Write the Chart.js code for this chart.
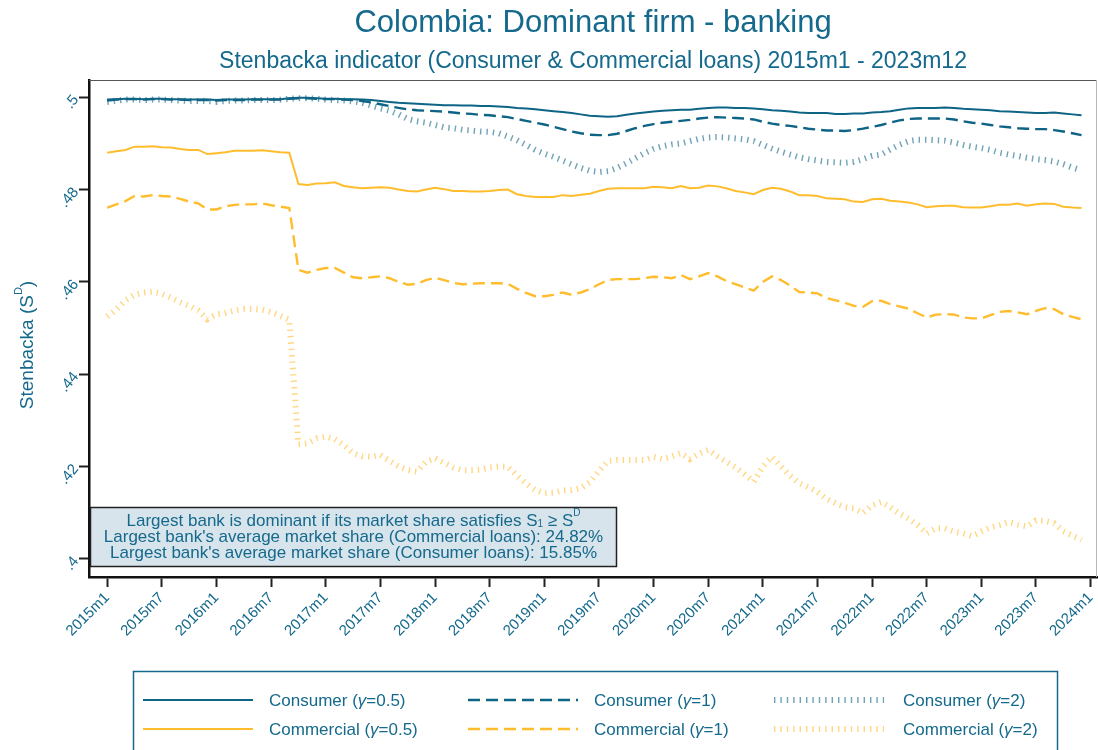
<!DOCTYPE html>
<html>
<head>
<meta charset="utf-8">
<title>Colombia: Dominant firm - banking</title>
<script src="https://cdn.jsdelivr.net/npm/chart.js@4.4.1/dist/chart.umd.min.js"></script>
<style>
    html, body { margin: 0; padding: 0; background: #ffffff; }
    #wrap { width: 1098px; height: 750px; }
</style>
</head>
<body>
<div id="wrap"><canvas id="chart" width="1098" height="750"></canvas></div>
<script>
// ==================== DATA ====================

// Monthly series, 2015m1 .. 2023m12 (108 months)
const consumer05 = [
    0.4995, 0.4996, 0.4997, 0.4997, 0.4996, 0.4997, 0.4997, 0.4996, 0.4996, 0.4995,
    0.4995, 0.4995, 0.4994, 0.4995, 0.4995, 0.4995, 0.4996, 0.4996, 0.4996, 0.4996,
    0.4998, 0.4999, 0.4999, 0.4998, 0.4997, 0.4997, 0.4996, 0.4996, 0.4995, 0.4994,
    0.4992, 0.4990, 0.4988, 0.4987, 0.4986, 0.4985, 0.4984, 0.4983, 0.4983, 0.4982,
    0.4982, 0.4981, 0.4981, 0.4980, 0.4979, 0.4977, 0.4976, 0.4974, 0.4972, 0.4970,
    0.4968, 0.4966, 0.4963, 0.4960, 0.4959, 0.4958, 0.4959, 0.4962, 0.4965, 0.4967,
    0.4969, 0.4971, 0.4972, 0.4973, 0.4973, 0.4975, 0.4977, 0.4978, 0.4978, 0.4977,
    0.4977, 0.4976, 0.4974, 0.4972, 0.4971, 0.4969, 0.4967, 0.4966, 0.4966, 0.4966,
    0.4964, 0.4964, 0.4965, 0.4965, 0.4967, 0.4968, 0.4970, 0.4973, 0.4976, 0.4977,
    0.4977, 0.4977, 0.4978, 0.4977, 0.4975, 0.4974, 0.4973, 0.4972, 0.4970, 0.4969,
    0.4968, 0.4967, 0.4966, 0.4966, 0.4967, 0.4965, 0.4963, 0.4961
];

const consumer1 = [
    0.4993, 0.4995, 0.4996, 0.4996, 0.4995, 0.4996, 0.4996, 0.4995, 0.4995, 0.4994,
    0.4994, 0.4994, 0.4993, 0.4994, 0.4994, 0.4994, 0.4995, 0.4995, 0.4995, 0.4995,
    0.4997, 0.4998, 0.4998, 0.4997, 0.4996, 0.4996, 0.4995, 0.4994, 0.4992, 0.4989,
    0.4985, 0.4981, 0.4977, 0.4974, 0.4972, 0.4971, 0.4970, 0.4969, 0.4967, 0.4965,
    0.4964, 0.4962, 0.4961, 0.4959, 0.4957, 0.4953, 0.4949, 0.4945, 0.4941, 0.4936,
    0.4931, 0.4926, 0.4922, 0.4919, 0.4918, 0.4918, 0.4921, 0.4927, 0.4933, 0.4938,
    0.4942, 0.4945, 0.4947, 0.4949, 0.4951, 0.4954, 0.4956, 0.4957, 0.4956, 0.4955,
    0.4954, 0.4952, 0.4947, 0.4943, 0.4940, 0.4938, 0.4935, 0.4932, 0.4930, 0.4928,
    0.4928, 0.4927, 0.4929, 0.4932, 0.4936, 0.4940, 0.4945, 0.4950, 0.4953, 0.4954,
    0.4954, 0.4954, 0.4954, 0.4952, 0.4948, 0.4945, 0.4943, 0.4940, 0.4937, 0.4935,
    0.4933, 0.4932, 0.4931, 0.4931, 0.4929, 0.4926, 0.4922, 0.4918
];

const consumer2 = [
    0.4990, 0.4993, 0.4995, 0.4995, 0.4994, 0.4995, 0.4995, 0.4994, 0.4993, 0.4992,
    0.4992, 0.4992, 0.4990, 0.4992, 0.4993, 0.4993, 0.4994, 0.4994, 0.4994, 0.4995,
    0.4997, 0.4998, 0.4998, 0.4997, 0.4995, 0.4994, 0.4993, 0.4991, 0.4988, 0.4982,
    0.4976, 0.4971, 0.4963, 0.4953, 0.4948, 0.4945, 0.4940, 0.4935, 0.4933, 0.4930,
    0.4928, 0.4926, 0.4925, 0.4922, 0.4915, 0.4907, 0.4897, 0.4886, 0.4878, 0.4871,
    0.4863, 0.4855, 0.4847, 0.4841, 0.4838, 0.4840, 0.4847, 0.4857, 0.4868, 0.4879,
    0.4888, 0.4894, 0.4898, 0.4900, 0.4905, 0.4910, 0.4913, 0.4914, 0.4913, 0.4911,
    0.4909, 0.4905, 0.4897, 0.4889, 0.4882, 0.4876, 0.4870, 0.4866, 0.4863, 0.4860,
    0.4859, 0.4858, 0.4860, 0.4866, 0.4873, 0.4876, 0.4887, 0.4897, 0.4905, 0.4908,
    0.4908, 0.4907, 0.4906, 0.4902, 0.4897, 0.4893, 0.4890, 0.4886, 0.4880, 0.4876,
    0.4873, 0.4869, 0.4866, 0.4864, 0.4861, 0.4855, 0.4848, 0.4842
];

const commercial05 = [
    0.4880, 0.4883, 0.4886, 0.4893, 0.4893, 0.4894, 0.4892, 0.4891, 0.4888, 0.4886,
    0.4886, 0.4877, 0.4879, 0.4881, 0.4884, 0.4884, 0.4884, 0.4885, 0.4883, 0.4881,
    0.4880, 0.4812, 0.4810, 0.4813, 0.4814, 0.4816, 0.4808, 0.4805, 0.4803, 0.4804,
    0.4805, 0.4804, 0.4800, 0.4797, 0.4796, 0.4800, 0.4804, 0.4801, 0.4797, 0.4797,
    0.4796, 0.4796, 0.4797, 0.4799, 0.4800, 0.4790, 0.4786, 0.4784, 0.4784, 0.4784,
    0.4788, 0.4786, 0.4789, 0.4791, 0.4797, 0.4802, 0.4803, 0.4803, 0.4803, 0.4803,
    0.4806, 0.4805, 0.4803, 0.4808, 0.4803, 0.4804, 0.4809, 0.4807, 0.4803, 0.4797,
    0.4794, 0.4790, 0.4799, 0.4804, 0.4802, 0.4796, 0.4788, 0.4788, 0.4786, 0.4781,
    0.4780, 0.4779, 0.4774, 0.4773, 0.4779, 0.4780, 0.4776, 0.4774, 0.4772, 0.4768,
    0.4762, 0.4764, 0.4765, 0.4765, 0.4762, 0.4761, 0.4761, 0.4764, 0.4767, 0.4767,
    0.4770, 0.4765, 0.4768, 0.4770, 0.4769, 0.4763, 0.4761, 0.4760
];

const commercial1 = [
    0.4761, 0.4768, 0.4775, 0.4786, 0.4785, 0.4788, 0.4786, 0.4785, 0.4780, 0.4774,
    0.4770, 0.4757, 0.4757, 0.4764, 0.4767, 0.4768, 0.4768, 0.4770, 0.4766, 0.4763,
    0.4760, 0.4626, 0.4620, 0.4626, 0.4630, 0.4630, 0.4620, 0.4610, 0.4608, 0.4610,
    0.4612, 0.4608, 0.4600, 0.4594, 0.4596, 0.4604, 0.4609, 0.4604, 0.4598, 0.4595,
    0.4596, 0.4597, 0.4597, 0.4597, 0.4596, 0.4585, 0.4576, 0.4569, 0.4569, 0.4572,
    0.4577, 0.4572, 0.4577, 0.4584, 0.4595, 0.4604, 0.4606, 0.4606, 0.4606, 0.4608,
    0.4611, 0.4610, 0.4608, 0.4615, 0.4606, 0.4612, 0.4619, 0.4612, 0.4602, 0.4595,
    0.4588, 0.4581, 0.4600, 0.4612, 0.4604, 0.4592, 0.4578, 0.4577, 0.4575, 0.4565,
    0.4560, 0.4555, 0.4548, 0.4546, 0.4558, 0.4559, 0.4552, 0.4547, 0.4542, 0.4532,
    0.4523, 0.4529, 0.4530, 0.4529, 0.4523, 0.4521, 0.4521, 0.4528, 0.4535, 0.4537,
    0.4534, 0.4530, 0.4537, 0.4543, 0.4541, 0.4530, 0.4524, 0.4519
];

const commercial2 = [
    0.4525, 0.4540, 0.4560, 0.4572, 0.4577, 0.4579, 0.4574, 0.4566, 0.4556, 0.4548,
    0.4538, 0.4519, 0.4530, 0.4533, 0.4538, 0.4541, 0.4541, 0.4540, 0.4535, 0.4526,
    0.4518, 0.4248, 0.4250, 0.4261, 0.4265, 0.4259, 0.4246, 0.4229, 0.4222, 0.4221,
    0.4225, 0.4212, 0.4200, 0.4192, 0.4189, 0.4210, 0.4218, 0.4208, 0.4198, 0.4192,
    0.4192, 0.4193, 0.4198, 0.4200, 0.4199, 0.4180, 0.4163, 0.4149, 0.4142, 0.4143,
    0.4148, 0.4149, 0.4153, 0.4166, 0.4190, 0.4212, 0.4214, 0.4214, 0.4214, 0.4214,
    0.4221, 0.4216, 0.4222, 0.4229, 0.4216, 0.4228, 0.4236, 0.4222, 0.4210, 0.4198,
    0.4183, 0.4167, 0.4200, 0.4221, 0.4200, 0.4180, 0.4164, 0.4155, 0.4145, 0.4130,
    0.4120, 0.4112, 0.4109, 0.4099, 0.4116, 0.4123, 0.4112, 0.4098, 0.4087, 0.4073,
    0.4055, 0.4066, 0.4066, 0.4059, 0.4055, 0.4049, 0.4059, 0.4068, 0.4073, 0.4080,
    0.4074, 0.4070, 0.4083, 0.4082, 0.4077, 0.4060, 0.4050, 0.4041
];

const seriesNames = [
    'Consumer (γ=0.5)', 'Consumer (γ=1)', 'Consumer (γ=2)',
    'Commercial (γ=0.5)', 'Commercial (γ=1)', 'Commercial (γ=2)'
];

const xTickLabels = [
    '2015m1', '2015m7', '2016m1', '2016m7', '2017m1', '2017m7', '2018m1', '2018m7', '2019m1', '2019m7',
    '2020m1', '2020m7', '2021m1', '2021m7', '2022m1', '2022m7', '2023m1', '2023m7', '2024m1'
];
const yTickValues = [0.40, 0.42, 0.44, 0.46, 0.48, 0.50];

const noteLines = [
    "Largest bank's average market share (Commercial loans): 24.82%",
    "Largest bank's average market share (Consumer loans): 15.85%"
];

// ==================== STYLE ====================

const TEXT_COLOR = '#14698c';
const CONSUMER_COLOR = '#0e6485';
const CONSUMER_LIGHT = 'rgba(14, 100, 133, 0.6)';
const COMMERCIAL_COLOR = '#ffbd2e';
const COMMERCIAL_LIGHT = 'rgba(255, 189, 46, 0.6)';
const FONT = '"Liberation Sans", Arial, sans-serif';

const lineStyles = [
    { color: CONSUMER_COLOR, width: 2, dash: [] },
    { color: CONSUMER_COLOR, width: 2.4, dash: [12, 6] },
    { color: CONSUMER_LIGHT, width: 6, dash: [1.4, 5] },
    { color: COMMERCIAL_COLOR, width: 2, dash: [] },
    { color: COMMERCIAL_COLOR, width: 2.4, dash: [12, 6] },
    { color: COMMERCIAL_LIGHT, width: 6, dash: [1.4, 5] }
];

// ==================== HELPERS ====================

function monthIndex(label) {
    const parts = label.split('m');
    return (parseInt(parts[0], 10) - 2015) * 12 + parseInt(parts[1], 10) - 1;
}

function labelForMonth(m) {
    const year = 2015 + Math.floor(m / 12);
    return year + 'm' + (m % 12 + 1);
}

function toPoints(values) {
    return values.map((v, i) => ({ x: i, y: v }));
}

// draw text where some pieces are italic / superscript / subscript
function drawRich(ctx, pieces, x, y, size, align) {
    const widths = pieces.map(p => {
        ctx.font = pieceFont(p, size);
        return ctx.measureText(p.t).width;
    });
    const total = widths.reduce((a, b) => a + b, 0);
    let cx = align === 'center' ? x - total / 2 : x;
    pieces.forEach((p, i) => {
        ctx.font = pieceFont(p, size);
        let dy = 0;
        if (p.sup) dy = -size * 0.45;
        if (p.sub) dy = size * 0.2;
        ctx.fillText(p.t, cx, y + dy);
        cx += widths[i];
    });
}

function pieceFont(p, size) {
    const s = (p.sup || p.sub) ? Math.round(size * 0.6) : size;
    return (p.italic ? 'italic ' : '') + s + 'px ' + FONT;
}

// ==================== DECORATION PLUGIN ====================

const decorPlugin = {
    id: 'decor',
    afterDraw(chart) {
        const ctx = chart.ctx;
        const area = chart.chartArea;
        const midX = (area.left + area.right) / 2;

        ctx.save();
        ctx.textBaseline = 'middle';
        ctx.fillStyle = TEXT_COLOR;

        // Titles
        ctx.textAlign = 'center';
        ctx.font = '31px ' + FONT;
        ctx.fillText('Colombia: Dominant firm - banking', midX, 23);
        ctx.font = '23px ' + FONT;
        ctx.fillText('Stenbacka indicator (Consumer & Commercial loans) 2015m1 - 2023m12', midX, 62);

        // Plot frame (top and right)
        ctx.strokeStyle = '#555555';
        ctx.lineWidth = 1;
        ctx.beginPath();
        ctx.moveTo(area.left, area.top + 0.5);
        ctx.lineTo(area.right, area.top + 0.5);
        ctx.stroke();
        ctx.strokeStyle = '#b8b8b8';
        ctx.beginPath();
        ctx.moveTo(area.right - 0.5, area.top);
        ctx.lineTo(area.right - 0.5, area.bottom);
        ctx.stroke();

        // Y axis title
        ctx.save();
        ctx.translate(28, 345);
        ctx.rotate(-Math.PI / 2);
        ctx.textAlign = 'left';
        drawRich(ctx, [{ t: 'Stenbacka (S' }, { t: 'D', sup: true }, { t: ')' }], 0, 0, 19, 'center');
        ctx.restore();

        // Note box
        ctx.fillStyle = '#d8e4eb';
        ctx.fillRect(90.5, 507.5, 526, 59);
        ctx.strokeStyle = '#222222';
        ctx.lineWidth = 1.5;
        ctx.strokeRect(90.5, 507.5, 526, 59);
        ctx.fillStyle = TEXT_COLOR;
        ctx.textAlign = 'left';
        drawRich(ctx, [
            { t: 'Largest bank is dominant if its market share satisfies S' },
            { t: '1', sub: true },
            { t: ' \u2265 S' },
            { t: 'D', sup: true }
        ], 353.5, 521, 17, 'center');
        noteLines.forEach((line, i) => {
            drawRich(ctx, [{ t: line }], 353.5, 537 + i * 16, 17, 'center');
        });

        // Legend
        ctx.strokeStyle = TEXT_COLOR;
        ctx.lineWidth = 1.5;
        ctx.strokeRect(133.5, 671.5, 924, 100);
        const colSample = [143, 468, 774];
        const colText = [269, 594, 903];
        const rowY = [700, 729];
        seriesNames.forEach((name, i) => {
            const col = i % 3;
            const row = Math.floor(i / 3);
            const st = lineStyles[i];
            ctx.strokeStyle = st.color;
            ctx.lineWidth = st.width;
            ctx.setLineDash(st.dash);
            ctx.beginPath();
            ctx.moveTo(colSample[col], rowY[row]);
            ctx.lineTo(colSample[col] + 110, rowY[row]);
            ctx.stroke();
            ctx.setLineDash([]);
            ctx.fillStyle = TEXT_COLOR;
            const idx = name.indexOf('γ');
            drawRich(ctx, [
                { t: name.slice(0, idx) },
                { t: 'γ', italic: true },
                { t: name.slice(idx + 1) }
            ], colText[col], rowY[row] + 1, 17, 'left');
        });

        ctx.restore();
    }
};

// ==================== CHART ====================

const datasets = [consumer05, consumer1, consumer2, commercial05, commercial1, commercial2].map((vals, i) => ({
    label: seriesNames[i],
    data: toPoints(vals),
    borderColor: lineStyles[i].color,
    borderWidth: lineStyles[i].width,
    borderDash: lineStyles[i].dash,
    borderCapStyle: 'butt',
    pointRadius: 0,
    tension: 0,
    fill: false
}));

const tickStyle = {
    display: true,
    drawOnChartArea: false,
    drawTicks: true,
    tickLength: 10,
    tickColor: '#222222',
    tickWidth: 2
};

new Chart(document.getElementById('chart'), {
    type: 'line',
    data: { datasets: datasets },
    options: {
        responsive: false,
        animation: false,
        devicePixelRatio: 1,
        layout: { padding: { left: 29, right: 1, top: 80, bottom: 83 } },
        plugins: {
            legend: { display: false },
            title: { display: false },
            tooltip: { enabled: false }
        },
        scales: {
            x: {
                type: 'linear',
                min: -2.0,
                max: 108.7,
                border: { display: true, color: '#111111', width: 2.5 },
                grid: tickStyle,
                afterBuildTicks: scale => {
                    scale.ticks = xTickLabels.map(l => ({ value: monthIndex(l) }));
                },
                afterFit: scale => {
                    scale.height = 90;
                    scale.paddingLeft = 0;
                    scale.paddingRight = 0;
                },
                ticks: {
                    autoSkip: false,
                    minRotation: 45,
                    maxRotation: 45,
                    padding: 2,
                    color: TEXT_COLOR,
                    font: { family: FONT, size: 15 },
                    callback: v => labelForMonth(v)
                }
            },
            y: {
                type: 'linear',
                min: 0.39605,
                max: 0.50375,
                border: { display: true, color: '#111111', width: 2.5 },
                grid: tickStyle,
                afterBuildTicks: scale => {
                    scale.ticks = yTickValues.map(v => ({ value: v }));
                },
                afterFit: scale => {
                    scale.width = 60;
                    scale.paddingTop = 0;
                    scale.paddingBottom = 0;
                },
                ticks: {
                    autoSkip: false,
                    minRotation: 50,
                    maxRotation: 50,
                    padding: 3,
                    color: TEXT_COLOR,
                    font: { family: FONT, size: 15 },
                    callback: v => String(+v.toFixed(2)).replace(/^0/, '')
                }
            }
        }
    },
    plugins: [decorPlugin]
});
</script>
</body>
</html>
